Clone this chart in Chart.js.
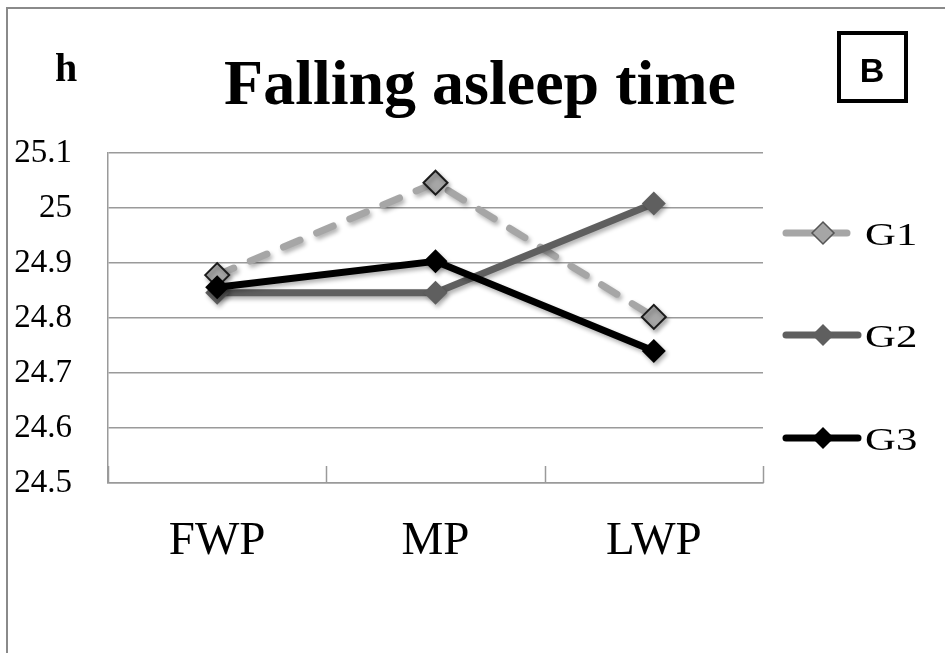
<!DOCTYPE html>
<html>
<head>
<meta charset="utf-8">
<script src="https://cdn.jsdelivr.net/npm/chart.js@4.4.1/dist/chart.umd.min.js"></script>
<style>
  html, body { margin: 0; padding: 0; background: #ffffff; }
  #wrap { width: 945px; height: 653px; position: relative; }
</style>
</head>
<body>
<div id="wrap"><canvas id="chart" width="945" height="653"></canvas></div>
<script>
// Periods and mean falling-asleep time (hours) per group
const categories = ['FWP', 'MP', 'LWP'];
const seriesNames = ['G1', 'G2', 'G3'];
const g1Values = [24.878, 25.046, 24.802];
const g2Values = [24.846, 24.846, 25.008];
const g3Values = [24.856, 24.903, 24.740];
const yMin = 24.5;
const yMax = 25.1;
const yStep = 0.1;

const titleText = 'Falling asleep time';
const unitText = 'h';
const panelText = 'B';

const SERIF = '"Liberation Serif", "Times New Roman", serif';

// Page frame, title, unit label and panel letter
const decorPlugin = {
  id: 'decor',
  beforeDraw(chart) {
    const ctx = chart.ctx;
    ctx.save();
    ctx.fillStyle = '#ffffff';
    ctx.fillRect(0, 0, chart.width, chart.height);
    ctx.strokeStyle = '#8a8a8a';
    ctx.lineWidth = 2;
    ctx.beginPath();
    ctx.moveTo(7, chart.height);
    ctx.lineTo(7, 8);
    ctx.lineTo(chart.width, 8);
    ctx.stroke();
    ctx.restore();
  },
  afterDraw(chart) {
    const ctx = chart.ctx;
    ctx.save();
    ctx.fillStyle = '#000';
    ctx.textBaseline = 'alphabetic';
    ctx.textAlign = 'center';
    ctx.font = 'bold 64px ' + SERIF;
    ctx.fillText(titleText, 480, 104);

    ctx.textAlign = 'left';
    ctx.font = 'bold 40px ' + SERIF;
    ctx.fillText(unitText, 55, 81);

    ctx.strokeStyle = '#000';
    ctx.lineWidth = 4;
    ctx.strokeRect(839, 33, 67, 68);
    ctx.textAlign = 'center';
    ctx.font = 'bold 34px "Liberation Sans", Arial, sans-serif';
    ctx.fillText(panelText, 872, 82);
    ctx.restore();
  }
};

// Short category-boundary tick marks pointing up into the plot
const innerTicksPlugin = {
  id: 'innerTicks',
  afterDraw(chart) {
    const xs = chart.scales.x;
    const ctx = chart.ctx;
    const n = categories.length;
    const bounds = [xs.left];
    for (let i = 1; i < n; i++) {
      bounds.push((xs.getPixelForValue(i - 1) + xs.getPixelForValue(i)) / 2);
    }
    bounds.push(xs.right);
    ctx.save();
    ctx.strokeStyle = '#9a9a9a';
    ctx.lineWidth = 1.5;
    bounds.forEach(b => {
      const x = Math.round(b) + 0.5;
      ctx.beginPath();
      ctx.moveTo(x, xs.top);
      ctx.lineTo(x, xs.top - 17);
      ctx.stroke();
    });
    ctx.restore();
  }
};

// Soft drop shadow under lines and markers
const shadowPlugin = {
  id: 'shadow',
  beforeDatasetsDraw(chart) {
    const ctx = chart.ctx;
    ctx.save();
    ctx.shadowColor = 'rgba(0,0,0,0.30)';
    ctx.shadowBlur = 4;
    ctx.shadowOffsetX = 2;
    ctx.shadowOffsetY = 3;
  },
  afterDatasetsDraw(chart) {
    chart.ctx.restore();
  }
};

// Legend drawn at the right of the plot, one row per series
const legendPlugin = {
  id: 'sideLegend',
  afterDraw(chart) {
    const ctx = chart.ctx;
    const rows = [
      { y: 233, x1: 786, x2: 847 },
      { y: 335, x1: 786, x2: 858 },
      { y: 438, x1: 786, x2: 858 }
    ];
    chart.data.datasets.forEach((ds, i) => {
      const r = rows[i];
      ctx.save();
      ctx.strokeStyle = ds.borderColor;
      ctx.lineWidth = 7;
      ctx.lineCap = 'round';
      ctx.beginPath();
      ctx.moveTo(r.x1, r.y);
      ctx.lineTo(r.x2, r.y);
      ctx.stroke();
      // diamond marker
      const cx = 823, cy = r.y, rad = 11;
      ctx.beginPath();
      ctx.moveTo(cx, cy - rad);
      ctx.lineTo(cx + rad, cy);
      ctx.lineTo(cx, cy + rad);
      ctx.lineTo(cx - rad, cy);
      ctx.closePath();
      ctx.fillStyle = ds.pointBackgroundColor;
      ctx.fill();
      if (ds.pointBorderWidth > 0) {
        ctx.lineWidth = 1.5;
        ctx.strokeStyle = '#555';
        ctx.stroke();
      }
      ctx.fillStyle = '#000';
      ctx.font = '31px ' + SERIF;
      ctx.textAlign = 'left';
      ctx.textBaseline = 'alphabetic';
      ctx.translate(865, r.y + 12);
      ctx.scale(1.38, 1);
      ctx.fillText(ds.label, 0, 0);
      ctx.restore();
    });
  }
};

new Chart(document.getElementById('chart'), {
  type: 'line',
  data: {
    labels: categories,
    datasets: [
      {
        label: seriesNames[0],
        data: g1Values,
        borderColor: '#a6a6a6',
        borderWidth: 7,
        borderDash: [18, 18],
        borderCapStyle: 'round',
        pointStyle: 'rectRot',
        pointRadius: 12,
        pointBackgroundColor: '#a6a6a6',
        pointBorderColor: '#1a1a1a',
        pointBorderWidth: 2,
        tension: 0,
        order: 3
      },
      {
        label: seriesNames[1],
        data: g2Values,
        borderColor: '#5f5f5f',
        borderWidth: 7,
        borderCapStyle: 'round',
        pointStyle: 'rectRot',
        pointRadius: 12,
        pointBackgroundColor: '#5f5f5f',
        pointBorderColor: '#5f5f5f',
        pointBorderWidth: 0,
        tension: 0,
        order: 2
      },
      {
        label: seriesNames[2],
        data: g3Values,
        borderColor: '#000000',
        borderWidth: 7,
        borderCapStyle: 'round',
        pointStyle: 'rectRot',
        pointRadius: 12,
        pointBackgroundColor: '#000000',
        pointBorderColor: '#000000',
        pointBorderWidth: 0,
        tension: 0,
        order: 1
      }
    ]
  },
  options: {
    responsive: false,
    animation: false,
    events: [],
    layout: { padding: { top: 153, right: 182, left: 0, bottom: 70 } },
    plugins: {
      legend: { display: false },
      title: { display: false },
      tooltip: { enabled: false }
    },
    scales: {
      x: {
        type: 'category',
        offset: true,
        grid: { display: true, drawOnChartArea: false, drawTicks: false, offset: true, color: '#9a9a9a' },
        border: { display: true, color: '#9a9a9a', width: 1.5 },
        ticks: {
          color: '#000',
          font: { family: SERIF, size: 47 },
          padding: 30,
          maxRotation: 0
        },
        afterFit(scale) { scale.height = 100; }
      },
      y: {
        min: yMin,
        max: yMax,
        grid: { color: '#9a9a9a', lineWidth: 1.5, drawTicks: false },
        border: { display: true, color: '#9a9a9a', width: 1.5 },
        ticks: {
          stepSize: yStep,
          color: '#000',
          font: { family: SERIF, size: 33 },
          padding: 36,
          callback: (value) => String(Number(Number(value).toFixed(1)))
        },
        afterFit(scale) { scale.width = 108; }
      }
    }
  },
  plugins: [decorPlugin, shadowPlugin, innerTicksPlugin, legendPlugin]
});
</script>
</body>
</html>
